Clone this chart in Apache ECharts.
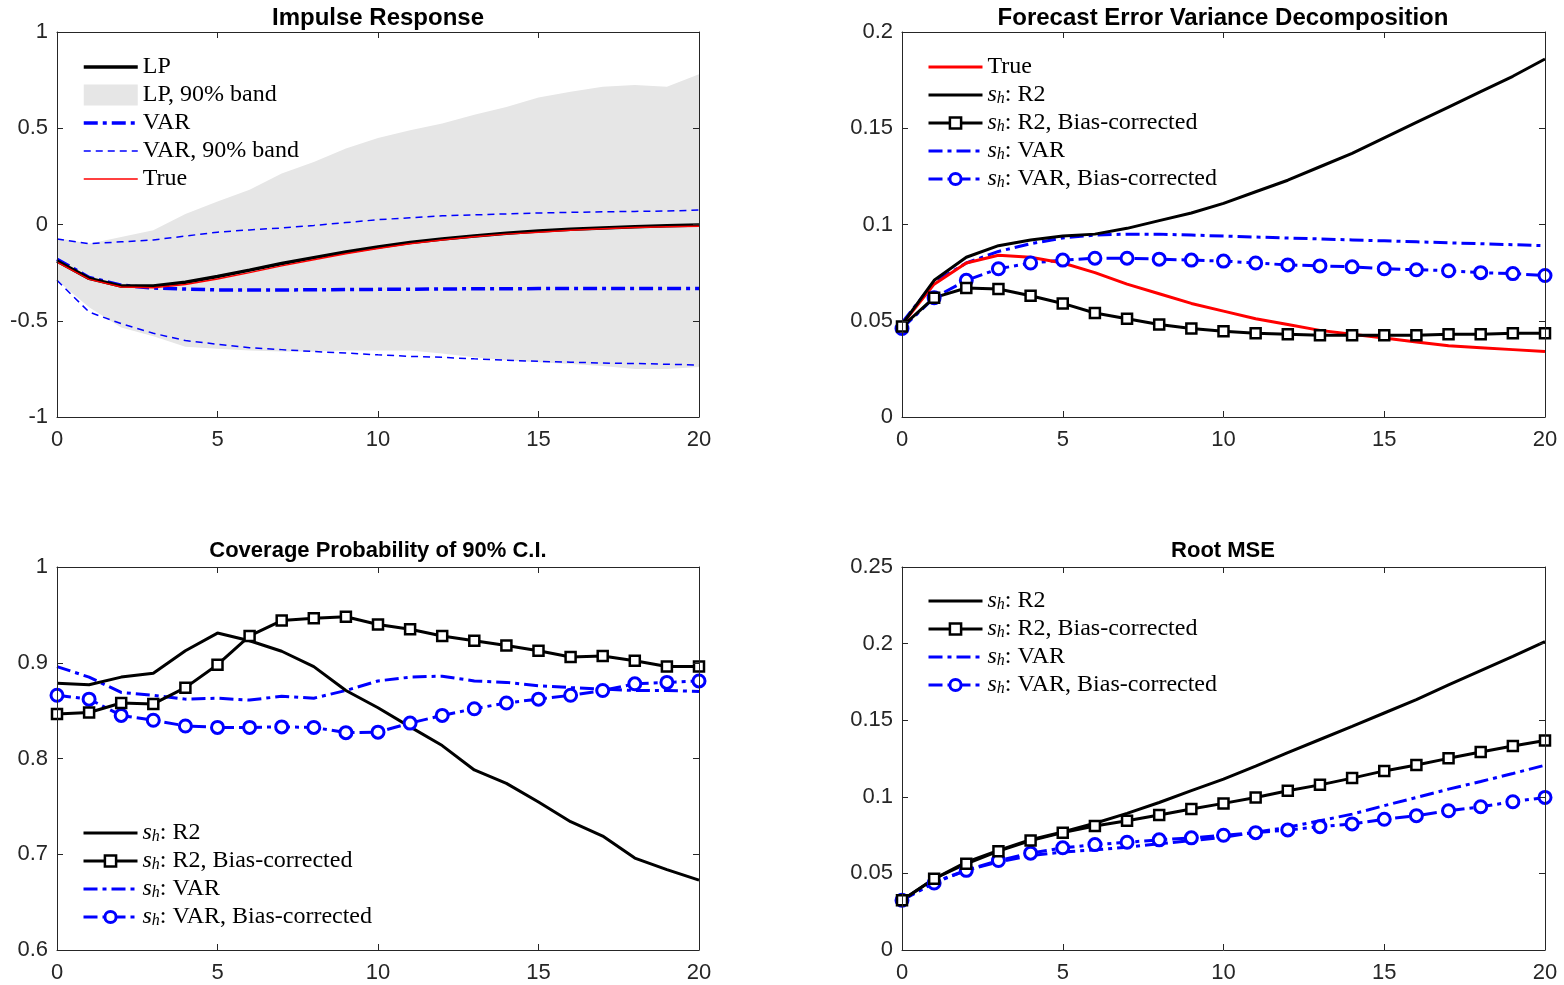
<!DOCTYPE html>
<html>
<head>
<meta charset="utf-8">
<script src="https://cdn.jsdelivr.net/npm/echarts@6/dist/echarts.min.js"></script>
<style>
  html, body { margin: 0; padding: 0; background: #fff; }
  #main { width: 1564px; height: 985px; }
</style>
</head>
<body>
<div id="main"></div>
<script>
// horizons
var H = ['0','1','2','3','4','5','6','7','8','9','10','11','12','13','14','15','16','17','18','19','20'];

// Impulse response
var irLP    = [-0.19,-0.28,-0.32,-0.32,-0.30,-0.27,-0.237,-0.203,-0.172,-0.143,-0.117,-0.093,-0.075,-0.06,-0.046,-0.034,-0.025,-0.018,-0.012,-0.007,-0.003];
var irTrue  = [-0.195,-0.285,-0.325,-0.328,-0.312,-0.283,-0.25,-0.215,-0.183,-0.152,-0.125,-0.1,-0.08,-0.064,-0.05,-0.04,-0.03,-0.022,-0.016,-0.012,-0.009];
var irVAR   = [-0.18,-0.275,-0.315,-0.33,-0.335,-0.34,-0.34,-0.34,-0.339,-0.338,-0.337,-0.336,-0.335,-0.334,-0.334,-0.333,-0.333,-0.333,-0.333,-0.333,-0.333];
var irVarHi = [-0.075,-0.1,-0.09,-0.08,-0.06,-0.04,-0.028,-0.018,-0.005,0.01,0.025,0.035,0.045,0.05,0.055,0.06,0.063,0.066,0.068,0.07,0.075];
var irVarLo = [-0.29,-0.455,-0.515,-0.565,-0.603,-0.622,-0.64,-0.65,-0.66,-0.668,-0.677,-0.685,-0.69,-0.698,-0.705,-0.711,-0.715,-0.72,-0.722,-0.726,-0.73];
var irLpHi  = [-0.07,-0.1,-0.065,-0.03,0.055,0.12,0.18,0.265,0.325,0.395,0.45,0.49,0.525,0.57,0.61,0.66,0.69,0.715,0.725,0.715,0.78];
var irLpLo  = [-0.29,-0.43,-0.535,-0.58,-0.635,-0.645,-0.655,-0.66,-0.66,-0.655,-0.655,-0.655,-0.67,-0.69,-0.705,-0.715,-0.725,-0.735,-0.75,-0.75,-0.74];

// FEVD
var feTrue  = [0.048,0.069,0.080,0.084,0.083,0.080,0.075,0.069,0.064,0.059,0.055,0.051,0.048,0.045,0.043,0.041,0.039,0.037,0.036,0.035,0.034];
var feR2    = [0.048,0.071,0.083,0.089,0.092,0.094,0.095,0.098,0.102,0.106,0.111,0.117,0.123,0.130,0.137,0.145,0.153,0.161,0.169,0.177,0.186];
var feR2bc  = [0.047,0.062,0.067,0.0665,0.063,0.059,0.054,0.051,0.048,0.046,0.0445,0.0435,0.043,0.0425,0.0425,0.0425,0.0425,0.043,0.043,0.0435,0.0435];
var feVAR   = [0.049,0.070,0.080,0.086,0.090,0.093,0.0945,0.095,0.095,0.0945,0.094,0.0935,0.093,0.0925,0.092,0.0915,0.091,0.0905,0.090,0.0895,0.089];
var feVARbc = [0.046,0.062,0.071,0.077,0.080,0.0815,0.0825,0.0825,0.082,0.0815,0.081,0.080,0.079,0.0785,0.078,0.077,0.0765,0.076,0.075,0.0745,0.0735];

// Coverage probability
var cpR2    = [0.8785,0.877,0.885,0.889,0.9125,0.931,0.923,0.912,0.896,0.871,0.853,0.833,0.8135,0.788,0.774,0.7545,0.734,0.719,0.696,0.684,0.673];
var cpR2bc  = [0.8465,0.848,0.858,0.857,0.874,0.898,0.928,0.944,0.9465,0.948,0.94,0.935,0.928,0.923,0.918,0.9125,0.906,0.907,0.902,0.896,0.896];
var cpVAR   = [0.896,0.885,0.869,0.866,0.862,0.863,0.861,0.865,0.863,0.871,0.881,0.885,0.886,0.881,0.8795,0.876,0.874,0.8725,0.871,0.871,0.870];
var cpVARbc = [0.866,0.862,0.845,0.84,0.834,0.8325,0.8325,0.833,0.8325,0.827,0.8275,0.837,0.845,0.852,0.858,0.862,0.866,0.871,0.878,0.8795,0.881];

// Root MSE
var rmR2    = [0.0325,0.0465,0.0574,0.065,0.072,0.077,0.0827,0.0892,0.0963,0.104,0.1115,0.12,0.1288,0.1374,0.146,0.1547,0.1634,0.173,0.1823,0.1916,0.2013];
var rmR2bc  = [0.0325,0.0465,0.0563,0.0645,0.0714,0.0766,0.081,0.0844,0.0881,0.092,0.0957,0.0996,0.1039,0.1078,0.1122,0.1169,0.1208,0.1251,0.1292,0.1331,0.1368];
var rmVAR   = [0.0325,0.0444,0.052,0.0574,0.0617,0.0639,0.0654,0.0671,0.0693,0.0714,0.0736,0.0768,0.0801,0.0844,0.0887,0.0942,0.0996,0.105,0.11,0.1152,0.1206];
var rmVARbc = [0.0325,0.0437,0.052,0.0584,0.0632,0.0667,0.0688,0.0703,0.0719,0.0732,0.0749,0.0766,0.0784,0.0805,0.0823,0.0853,0.0877,0.0909,0.0935,0.0968,0.0996];

var LABELS = {
    ir_lp: 'LP', ir_band: 'LP, 90% band', ir_var: 'VAR', ir_varband: 'VAR, 90% band', ir_true: 'True',
    fe_true: 'True', fe_r2: '{s|s}{h|h}: R2', fe_r2bc: '{s|s}{h|h}: R2, Bias-corrected', fe_var: '{s|s}{h|h}: VAR', fe_varbc: '{s|s}{h|h}: VAR, Bias-corrected',
    cp_r2: '{s|s}{h|h}: R2', cp_r2bc: '{s|s}{h|h}: R2, Bias-corrected', cp_var: '{s|s}{h|h}: VAR', cp_varbc: '{s|s}{h|h}: VAR, Bias-corrected',
    rm_r2: '{s|s}{h|h}: R2', rm_r2bc: '{s|s}{h|h}: R2, Bias-corrected', rm_var: '{s|s}{h|h}: VAR', rm_varbc: '{s|s}{h|h}: VAR, Bias-corrected'
};

var AX = '#262626';
var BLUE = '#0000ff';
var DASHDOT = [14, 5, 4, 5];

var grids = [
    {left: 57, top: 32, width: 642, height: 385},
    {left: 902, top: 32, width: 643, height: 385},
    {left: 57, top: 567, width: 642, height: 383},
    {left: 902, top: 567, width: 643, height: 383}
];
var yRanges = [[-1, 1, 0.5], [0, 0.2, 0.05], [0.6, 1, 0.1], [0, 0.25, 0.05]];

var xAxes = [], yAxes = [];
for (var g = 0; g < 4; g++) {
    ['bottom', 'top'].forEach(function (pos) {
        xAxes.push({
            type: 'category', gridIndex: g, position: pos, data: H, boundaryGap: false,
            axisLine: {onZero: false, lineStyle: {color: AX, width: 1}},
            axisTick: {inside: true, length: 6, interval: 4, lineStyle: {color: AX}},
            axisLabel: {show: pos === 'bottom', interval: 4, margin: 12, color: AX, fontSize: 22, fontFamily: 'Liberation Sans'},
            splitLine: {show: false},
            z: 5
        });
    });
    ['left', 'right'].forEach(function (pos) {
        yAxes.push({
            type: 'value', gridIndex: g, position: pos,
            min: yRanges[g][0], max: yRanges[g][1], interval: yRanges[g][2],
            axisLine: {show: true, onZero: false, lineStyle: {color: AX, width: 1}},
            axisTick: {show: true, inside: true, length: 6, lineStyle: {color: AX}},
            axisLabel: {show: pos === 'left', margin: 9, color: AX, fontSize: 22, fontFamily: 'Liberation Sans'},
            splitLine: {show: false},
            z: 5
        });
    });
}

function line(name, g, data, color, width, type, sym) {
    var s = {
        name: name, type: 'line', xAxisIndex: 2 * g, yAxisIndex: 2 * g, data: data,
        lineStyle: {color: color, width: width, type: type || 'solid'},
        itemStyle: {color: color},
        symbol: 'none', silent: true
    };
    if (sym) {
        s.symbol = sym;
        s.showSymbol = true;
        s.symbolSize = sym === 'rect' ? 10 : 12;
        s.itemStyle = {color: '#fff', borderColor: color, borderWidth: sym === 'rect' ? 2.5 : 3};
    }
    return s;
}

var bandDiff = irLpHi.map(function (v, i) { return +(v - irLpLo[i]).toFixed(4); });

var series = [
    {name: 'ir_bandbase', type: 'line', xAxisIndex: 0, yAxisIndex: 0, data: irLpLo,
     stack: 'lpband', stackStrategy: 'all',
     symbol: 'none', lineStyle: {width: 0, opacity: 0}, silent: true},
    {name: 'ir_band', type: 'line', xAxisIndex: 0, yAxisIndex: 0, data: bandDiff,
     stack: 'lpband', stackStrategy: 'all',
     symbol: 'none', lineStyle: {width: 0, opacity: 0}, itemStyle: {color: '#e6e6e6'},
     areaStyle: {color: '#e6e6e6', opacity: 1}, silent: true},
    line('ir_varband', 0, irVarHi, BLUE, 1.5, [7, 5]),
    line('ir_varband', 0, irVarLo, BLUE, 1.5, [7, 5]),
    line('ir_var', 0, irVAR, BLUE, 3.5, DASHDOT),
    line('ir_lp', 0, irLP, '#000', 3.5),
    line('ir_true', 0, irTrue, '#ff0000', 1.5),

    line('fe_var', 1, feVAR, BLUE, 3, DASHDOT),
    line('fe_varbc', 1, feVARbc, BLUE, 3, DASHDOT, 'circle'),
    line('fe_true', 1, feTrue, '#ff0000', 3),
    line('fe_r2', 1, feR2, '#000', 3),
    line('fe_r2bc', 1, feR2bc, '#000', 3, 'solid', 'rect'),

    line('cp_var', 2, cpVAR, BLUE, 3, DASHDOT),
    line('cp_varbc', 2, cpVARbc, BLUE, 3, DASHDOT, 'circle'),
    line('cp_r2', 2, cpR2, '#000', 3),
    line('cp_r2bc', 2, cpR2bc, '#000', 3, 'solid', 'rect'),

    line('rm_var', 3, rmVAR, BLUE, 3, DASHDOT),
    line('rm_varbc', 3, rmVARbc, BLUE, 3, DASHDOT, 'circle'),
    line('rm_r2', 3, rmR2, '#000', 3),
    line('rm_r2bc', 3, rmR2bc, '#000', 3, 'solid', 'rect')
];

var rich = {
    s: {fontFamily: 'Liberation Serif', fontStyle: 'italic', fontSize: 24, lineHeight: 24, color: '#000'},
    h: {fontFamily: 'Liberation Serif', fontStyle: 'italic', fontSize: 16, lineHeight: 10, verticalAlign: 'bottom', color: '#000'}
};

// legend entry of a plain line: hide the default marker
function plain(n) { return {name: n, itemStyle: {opacity: 0}}; }

function legend(left, top, names, itemHeight) {
    return {
        orient: 'vertical', left: left, top: top, data: names,
        itemWidth: 54, itemHeight: itemHeight || 14, itemGap: 4,
        selectedMode: false,
        textStyle: {fontFamily: 'Liberation Serif', fontSize: 24, lineHeight: 24, color: '#000', rich: rich},
        formatter: function (n) { return LABELS[n]; },
        lineStyle: {width: 'inherit'},
        itemStyle: {borderWidth: 'inherit'}
    };
}

function title(text, x, top, size) {
    return {
        text: text, left: x, top: top, textAlign: 'center', padding: 0,
        textStyle: {fontFamily: 'Liberation Sans', fontWeight: 'bold', fontSize: size, color: '#000'}
    };
}

var chart = echarts.init(document.getElementById('main'), null, {renderer: 'canvas'});
chart.setOption({
    backgroundColor: '#ffffff',
    animation: false,
    title: [
        title('Impulse Response', 378, 6, 24),
        title('Forecast Error Variance Decomposition', 1223, 6, 24),
        title('Coverage Probability of 90% C.I.', 378, 540, 22),
        title('Root MSE', 1223, 540, 22)
    ],
    grid: grids,
    xAxis: xAxes,
    yAxis: yAxes,
    legend: [
        legend(77, 50, [plain('ir_lp'), {name: 'ir_band', icon: 'rect', itemStyle: {color: '#e6e6e6'}},
                        plain('ir_var'), plain('ir_varband'), plain('ir_true')], 21),
        legend(922, 50, [plain('fe_true'), plain('fe_r2'), 'fe_r2bc', plain('fe_var'), 'fe_varbc']),
        legend(77, 816, [plain('cp_r2'), 'cp_r2bc', plain('cp_var'), 'cp_varbc']),
        legend(922, 584, [plain('rm_r2'), 'rm_r2bc', plain('rm_var'), 'rm_varbc'])
    ],
    series: series
});
</script>
</body>
</html>
